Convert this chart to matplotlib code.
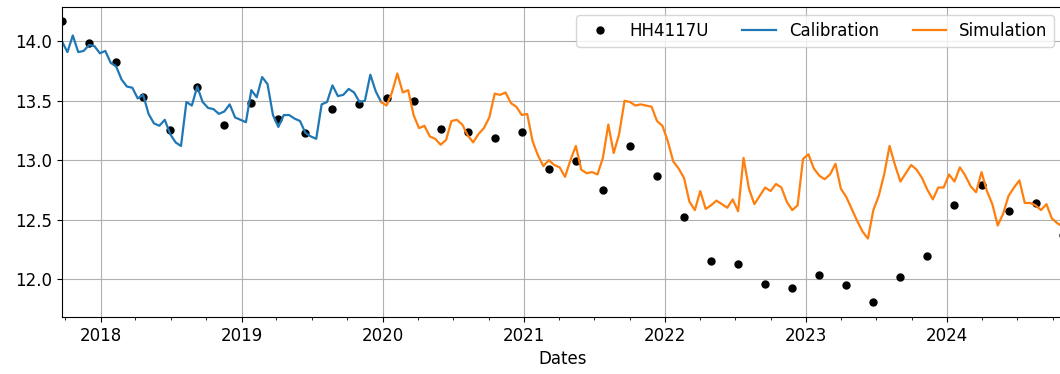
import matplotlib
matplotlib.use("Agg")
import matplotlib.pyplot as plt
import matplotlib.dates as mdates
import pandas as pd

plt.rcParams["font.size"] = 12

# observed heads (roughly every 10 weeks)
obs_dates = [
    "2017-09-23", "2017-12-02", "2018-02-10", "2018-04-21", "2018-06-30",
    "2018-09-08", "2018-11-17", "2019-01-26", "2019-04-06", "2019-06-15",
    "2019-08-24", "2019-11-02", "2020-01-11", "2020-03-21", "2020-05-30",
    "2020-08-08", "2020-10-17", "2020-12-26", "2021-03-06", "2021-05-15",
    "2021-07-24", "2021-10-02", "2021-12-11", "2022-02-19", "2022-04-30",
    "2022-07-09", "2022-09-17", "2022-11-26", "2023-02-04", "2023-04-15",
    "2023-06-24", "2023-09-02", "2023-11-11", "2024-01-20", "2024-03-30",
    "2024-06-08", "2024-08-17", "2024-10-26",
]
obs_head = [
    14.17, 13.99, 13.83, 13.53, 13.25, 13.62, 13.30, 13.48, 13.35, 13.23,
    13.43, 13.47, 13.52, 13.50, 13.26, 13.24, 13.19, 13.24, 12.93, 12.99,
    12.75, 13.12, 12.87, 12.52, 12.15, 12.13, 11.96, 11.92, 12.03, 11.95,
    11.81, 12.02, 12.19, 12.62, 12.79, 12.57, 12.64, 12.37,
]

# simulated heads, biweekly
calib_start = "2017-09-23"
calib_head = [
    14.00, 13.91, 14.05, 13.91, 13.92, 13.97, 13.96, 13.90, 13.92, 13.82,
    13.79, 13.68, 13.62, 13.61, 13.52, 13.55, 13.39, 13.31, 13.29, 13.34,
    13.22, 13.15, 13.12, 13.49, 13.46, 13.62, 13.49, 13.44, 13.43, 13.39,
    13.41, 13.47, 13.36, 13.34, 13.32, 13.59, 13.53, 13.70, 13.64, 13.38,
    13.28, 13.38, 13.38, 13.35, 13.33, 13.23, 13.20, 13.18, 13.47, 13.49,
    13.63, 13.54, 13.55, 13.60, 13.57, 13.49, 13.50, 13.72, 13.58, 13.49,
]
sim_start = "2019-12-28"
sim_head = [
    13.49, 13.46, 13.57, 13.73, 13.57, 13.59, 13.38, 13.27, 13.29, 13.20,
    13.18, 13.13, 13.17, 13.33, 13.34, 13.30, 13.21, 13.15, 13.22, 13.27,
    13.36, 13.56, 13.55, 13.57, 13.48, 13.45, 13.38, 13.39, 13.16, 13.04,
    12.95, 13.00, 12.96, 12.94, 12.86, 13.00, 13.12, 12.92, 12.89, 12.90,
    12.88, 13.02, 13.30, 13.06, 13.22, 13.50, 13.49, 13.46, 13.47, 13.46,
    13.45, 13.33, 13.29, 13.16, 12.99, 12.93, 12.85, 12.65, 12.58, 12.74,
    12.59, 12.62, 12.66, 12.63, 12.60, 12.67, 12.57, 13.02, 12.76, 12.63,
    12.70, 12.77, 12.74, 12.80, 12.77, 12.65, 12.58, 12.62, 13.01, 13.05,
    12.93, 12.87, 12.84, 12.88, 12.97, 12.76, 12.69, 12.59, 12.49, 12.40,
    12.34, 12.58, 12.70, 12.88, 13.12, 12.96, 12.82, 12.89, 12.96, 12.92,
    12.85, 12.75, 12.67, 12.77, 12.77, 12.88, 12.82, 12.94, 12.87, 12.78,
    12.73, 12.90, 12.74, 12.63, 12.45, 12.55, 12.70, 12.77, 12.83, 12.64,
    12.64, 12.62, 12.58, 12.63, 12.51, 12.47, 12.44,
]

obs = pd.Series(obs_head, index=pd.to_datetime(obs_dates))
calib = pd.Series(calib_head, index=pd.date_range(calib_start, periods=len(calib_head), freq="14D"))
sim = pd.Series(sim_head, index=pd.date_range(sim_start, periods=len(sim_head), freq="14D"))

fig = plt.figure(figsize=(10.6, 3.74), dpi=100)
ax = fig.add_axes([0.0585, 0.1524, 0.944, 0.829])

ax.plot(obs.index, obs.values, "o", color="black", markersize=5, label="HH4117U")
ax.plot(calib.index, calib.values, color="#1f77b4", linewidth=1.6, label="Calibration")
ax.plot(sim.index, sim.values, color="#ff7f0e", linewidth=1.6, label="Simulation")

ax.set_xlim(pd.Timestamp(obs_dates[0]), pd.Timestamp(obs_dates[-1]))
ax.set_ylim(11.68, 14.29)
ax.xaxis.set_major_locator(mdates.YearLocator())
ax.xaxis.set_major_formatter(mdates.DateFormatter("%Y"))
ax.xaxis.set_minor_locator(mdates.MonthLocator(bymonth=[1, 4, 7, 10]))
ax.set_yticks([12.0, 12.5, 13.0, 13.5, 14.0])
ax.grid(True, color="#b0b0b0", linewidth=0.8)
ax.set_xlabel("Dates")

ax.legend(loc="upper right", ncol=3)

fig.savefig("out.png", dpi=100)
